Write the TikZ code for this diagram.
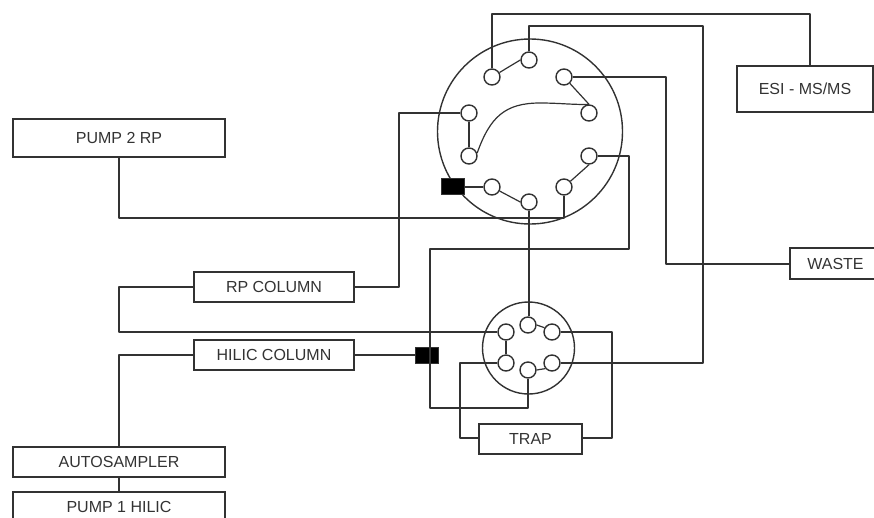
\documentclass[tikz,border=0pt]{standalone}
\usepackage{fontspec}
\setmainfont{Liberation Sans}
\definecolor{lineink}{RGB}{50,50,50}
\usetikzlibrary{positioning,calc}
\tikzset{
  wire/.style={lineink, line width=1.2pt, line join=round},
  ring/.style={lineink, line width=1.4pt},
  boxnode/.style={draw=lineink, line width=1.2pt, fill=white, inner sep=0pt, font=\fontsize{16}{18}\selectfont, text=black!80},
  port/.style={circle, draw=lineink, line width=1.4pt, fill=white, inner sep=0pt, minimum size=16pt},
  plug/.style={rectangle, draw=lineink, fill=black, inner sep=0pt, minimum width=23pt, minimum height=16pt}
}
\begin{document}
\begin{tikzpicture}[x=1pt,y=-1pt]
\clip (0,0) rectangle (874,517);
% valve bodies
\draw[ring] (530,131.5) circle (92.5pt);
\draw[ring] (528.5,348) circle (46pt);
% big valve ports
\node[port] (a1) at (492,77) {};
\node[port] (a2) at (529,60) {};
\node[port] (a3) at (564,77) {};
\node[port] (a4) at (589,113) {};
\node[port] (a5) at (589,156) {};
\node[port] (a6) at (564,187) {};
\node[port] (a7) at (529,202) {};
\node[port] (a8) at (492,187) {};
\node[port] (a9) at (469,156) {};
\node[port] (a10) at (469,113) {};
% small valve ports
\node[port] (b1) at (528,325) {};
\node[port] (b2) at (552,332) {};
\node[port] (b3) at (552,363) {};
\node[port] (b4) at (528,370) {};
\node[port] (b5) at (506,363) {};
\node[port] (b6) at (506,332) {};
% boxes
\node[boxnode, minimum width=212pt, minimum height=38pt] (pumpb) at (119,138) {PUMP 2 RP};
\node[boxnode, minimum width=136pt, minimum height=46pt] (esi) at (805,89) {ESI - MS/MS};
\node[boxnode, minimum width=91pt, minimum height=31pt] (waste) at (835.5,263.5) {WASTE};
\node[boxnode, minimum width=160pt, minimum height=30pt] (rpcol) at (274,287) {RP COLUMN};
\node[boxnode, minimum width=160pt, minimum height=30pt] (hilcol) at (274,355) {HILIC COLUMN};
\node[boxnode, minimum width=103pt, minimum height=30pt] (trap) at (530.5,439) {TRAP};
\node[boxnode, minimum width=212pt, minimum height=30pt] (sampler) at (119,462) {AUTOSAMPLER};
\node[boxnode, minimum width=212pt, minimum height=30pt] (pumpa) at (119,507) {PUMP 1 HILIC};
% plugs
\node[plug] (plugb) at (452.5,186.5) {};
\node[plug] (pluga) at (426.5,355) {};
% turning points
\coordinate (c1) at (810,14);
\coordinate (c2) at (703,26);
\coordinate (c3) at (666,264);
\coordinate (c4) at (629,249);
\coordinate (c5) at (430,408);
\coordinate (c6) at (119,218);
\coordinate (c7) at (399,287);
\coordinate (c8) at (119,332);
\coordinate (c10) at (460,438);
\coordinate (c11) at (612,438);
% links inside the valves
\draw[wire] (a1) -- (a2.west);
\draw[wire] (a3) -- (a4.north);
\draw[wire] (a5.south) -- (a6);
\draw[wire] (a7.west) -- (a8);
\draw[wire] (a9) -- (a10);
\draw[wire] (a9.20) .. controls (490,117) and (505,103) .. (540,103) .. controls (560,103) and (575,105) .. (a4.north);
\draw[wire] (b1.east) -- (b2.150);
\draw[wire] (b3.220) -- (b4.east);
\draw[wire] (b5) -- (b6);
% lines between parts
\draw[wire] (a1.north) |- (c1) -- (c1 |- esi.north);
\draw[wire] (a2.north) |- (c2) |- (b3.east);
\draw[wire] (a3.east) -| (c3) -- (waste.west |- c3);
\draw[wire] (a5.east) -| (c4) -| (c5) -| (b4.south);
\draw[wire] (pumpb.south) |- (c6) -| (a6.south);
\draw[wire] (a7.south) -- (a7 |- b1.north);
\draw[wire] (plugb.east |- a8) -- (a8.west);
\draw[wire] (rpcol.east) -| (c7) |- (a10.west);
\draw[wire] (rpcol.west) -| (c8) -- (b6.west);
\draw[wire] (hilcol.east) -- (pluga.west);
\draw[wire] (hilcol.west) -| (sampler.north);
\draw[wire] (sampler.south) -- (pumpa.north);
\draw[wire] (b5.west) -| (c10) -- (trap.west |- c10);
\draw[wire] (trap.east |- c11) -| (b2.east -| c11) -- (b2.east);
\end{tikzpicture}
\end{document}
